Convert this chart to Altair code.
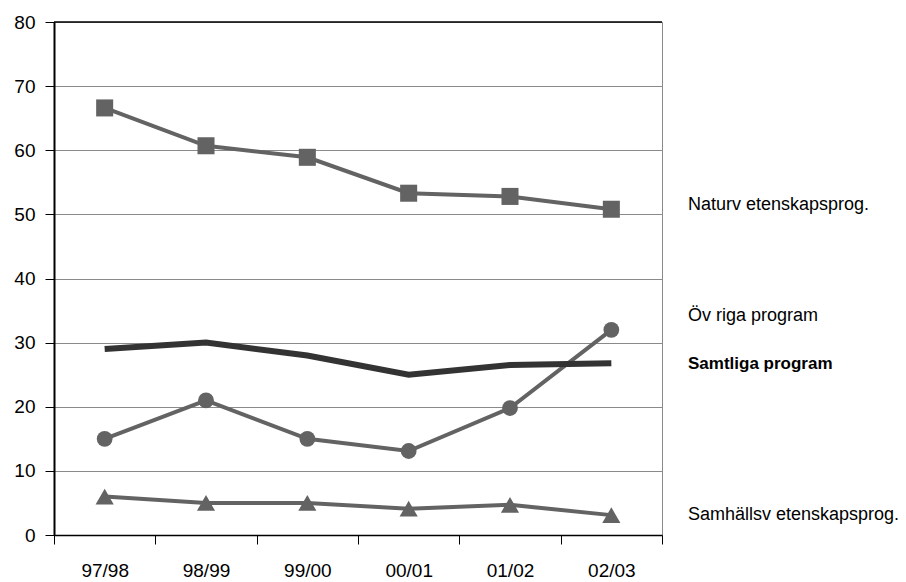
import altair as alt
import pandas as pd

categories = ["97/98", "98/99", "99/00", "00/01", "01/02", "02/03"]
naturv = [66.6, 60.7, 58.9, 53.3, 52.8, 50.8]
ovriga = [15.0, 21.0, 15.0, 13.1, 19.8, 32.0]
samtliga = [29.0, 30.0, 28.0, 25.0, 26.5, 26.8]
samhalls = [6.0, 5.0, 5.0, 4.1, 4.7, 3.1]

series_names = ["Naturv etenskapsprog.", "Öv riga program", "Samtliga program", "Samhällsv etenskapsprog."]
series_values = [naturv, ovriga, samtliga, samhalls]
label_y = [51.5, 34.2, 26.7, 3.1]
label_bold = [False, False, True, False]

FONT = "Liberation Sans"
GRAY = "#636363"

labels_df = pd.DataFrame({"series": series_names, "y": label_y, "bold": label_bold})

x_enc = alt.X("period:N", sort=categories, title=None,
              scale=alt.Scale(paddingInner=0, paddingOuter=0),
              axis=alt.Axis(labelAngle=0, tickBand="extent", domainColor="black", domainWidth=1.5,
                            tickColor="black", tickWidth=1, tickSize=9, labelFontSize=19,
                            labelFont=FONT, labelColor="black", labelPadding=17, grid=False))
y_enc = alt.Y("value:Q", title=None,
              scale=alt.Scale(domain=[0, 80], nice=False),
              axis=alt.Axis(values=[0, 10, 20, 30, 40, 50, 60, 70, 80], domainColor="black",
                            domainWidth=2, tickColor="black", tickSize=9, labelFontSize=19,
                            labelFont=FONT, labelColor="black", labelPadding=10,
                            grid=True, gridColor="#8a8a8a", gridWidth=1))


def series_df(name, vals):
    return pd.DataFrame({"period": categories, "value": vals, "series": name})


layers = []
styles = [
    ("square", 290, 4, GRAY),
    ("circle", 250, 4, GRAY),
    (None, 0, 6, "#333333"),
    ("triangle-up", 330, 4, GRAY),
]
first = True
for name, vals, (shape, size, sw, col) in zip(series_names, series_values, styles):
    d = series_df(name, vals)
    line = alt.Chart(d).mark_line(color=col, strokeWidth=sw).encode(
        x=x_enc if first else alt.X("period:N", sort=categories),
        y=y_enc if first else alt.Y("value:Q"),
    )
    first = False
    layers.append(line)
    if shape:
        pts = alt.Chart(d).mark_point(filled=True, opacity=1, color=col, shape=shape, size=size).encode(
            x=alt.X("period:N", sort=categories),
            y=alt.Y("value:Q"),
        )
        layers.append(pts)

top_rule = alt.Chart(pd.DataFrame({"v": [80]})).mark_rule(color="black", strokeWidth=1.5).encode(
    y=alt.Y("v:Q")
)

labels_normal = alt.Chart(labels_df).transform_filter(~alt.datum.bold).mark_text(
    align="left", baseline="middle", font=FONT, fontSize=18, color="black"
).encode(x=alt.value(634), y=alt.Y("y:Q"), text="series:N")

labels_bold = alt.Chart(labels_df).transform_filter(alt.datum.bold).mark_text(
    align="left", baseline="middle", font=FONT, fontSize=17, color="black", fontWeight="bold"
).encode(x=alt.value(634), y=alt.Y("y:Q"), text="series:N")

chart = alt.layer(*layers, top_rule, labels_normal, labels_bold).properties(
    width=608, height=513,
    autosize=alt.AutoSizeParams(type="none"),
    padding={"left": 46, "top": 14, "right": 236, "bottom": 47},
).configure_view(stroke="#8a8a8a", strokeWidth=1)

chart.save("out.html", embed_options={"renderer": "svg", "actions": False})
